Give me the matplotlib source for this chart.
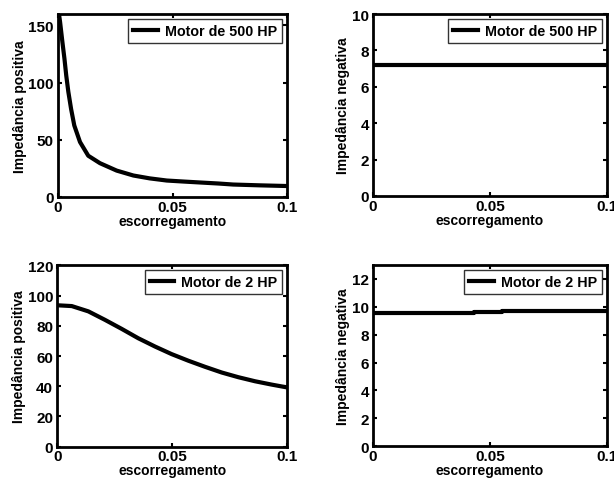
import numpy as np
import matplotlib
matplotlib.use("Agg")
import matplotlib.pyplot as plt

plt.rcParams['font.family'] = ['Liberation Sans', 'DejaVu Sans']
plt.rcParams['font.weight'] = 'bold'

# escorregamento (slip) vs impedance
s_500 = [0.0, 0.0009, 0.0019, 0.0028, 0.0036, 0.0045, 0.0057, 0.0071, 0.0096, 0.0132,
         0.0183, 0.0256, 0.0329, 0.0400, 0.0475, 0.055, 0.062, 0.070, 0.0765, 0.088, 0.1]
zpos_500 = [166, 153, 135.7, 121, 106, 92, 77, 62.5, 48, 36,
            29.5, 23, 18.7, 16.2, 14.3, 13.4, 12.6, 11.7, 10.8, 10.1, 9.5]

s_2 = [0.0, 0.0004, 0.0063, 0.0135, 0.0207, 0.028, 0.0352, 0.0425, 0.0497, 0.057,
       0.0642, 0.0715, 0.0787, 0.086, 0.0932, 0.1]
zpos_2 = [93.6, 93.6, 93.1, 89.6, 84, 78, 71.8, 66.3, 61.3, 56.9,
          52.9, 49.1, 46, 43.3, 41.1, 39.2]

s_neg500 = [0.0, 0.1]
zneg_500 = [7.2, 7.2]

s_neg2 = [0.0, 0.043, 0.055, 0.1]
zneg_2 = [9.55, 9.62, 9.7, 9.7]

xticks = [0, 0.05, 0.1]
xticklabels = ['0', '0.05', '0.1']

panels = [
    # (pos, s, z, ylim, yticks, ylabel, legend, step)
    ([0.0945, 0.592, 0.373, 0.377], s_500, zpos_500, (0, 160), [0, 50, 100, 150],
     'Impedância positiva', 'Motor de 500 HP', False),
    ([0.6075, 0.594, 0.381, 0.375], s_neg500, zneg_500, (0, 10), [0, 2, 4, 6, 8, 10],
     'Impedância negativa', 'Motor de 500 HP', False),
    ([0.0933, 0.077, 0.3746, 0.3736], s_2, zpos_2, (0, 120), [0, 20, 40, 60, 80, 100, 120],
     'Impedância positiva', 'Motor de 2 HP', False),
    ([0.6075, 0.078, 0.381, 0.3735], s_neg2, zneg_2, (0, 13), [0, 2, 4, 6, 8, 10, 12],
     'Impedância negativa', 'Motor de 2 HP', True),
]

fig = plt.figure(figsize=(6.14, 4.85), dpi=100)

for pos, s, z, ylim, yticks, ylabel, leg, step in panels:
    ax = fig.add_axes(pos)
    if step:
        ax.plot(s, z, color='black', lw=3, drawstyle='steps-post', label=leg)
    else:
        ax.plot(s, z, color='black', lw=3, label=leg, solid_joinstyle='round')
    ax.set_xlim(0, 0.1)
    ax.set_ylim(*ylim)
    ax.set_xticks(xticks)
    ax.set_xticklabels(xticklabels)
    ax.set_yticks(yticks)
    ax.tick_params(direction='in', length=3, width=1.5, top=True, right=True,
                   labelsize=11, pad=2)
    ax.tick_params(axis='y', pad=3)
    for sp in ax.spines.values():
        sp.set_linewidth(2)
    ax.set_xlabel('escorregamento', fontsize=10, fontweight='bold', labelpad=0)
    ax.set_ylabel(ylabel, fontsize=10, fontweight='bold', labelpad=1)
    lg = ax.legend(loc='upper right', fontsize=10.3, frameon=True, fancybox=False,
                   edgecolor='black', handlelength=1.7, handletextpad=0.5,
                   borderpad=0.35, borderaxespad=0.35)
    lg.get_frame().set_linewidth(1)
    for t in lg.get_texts():
        t.set_fontweight('bold')

fig.savefig('out.png', dpi=100)
